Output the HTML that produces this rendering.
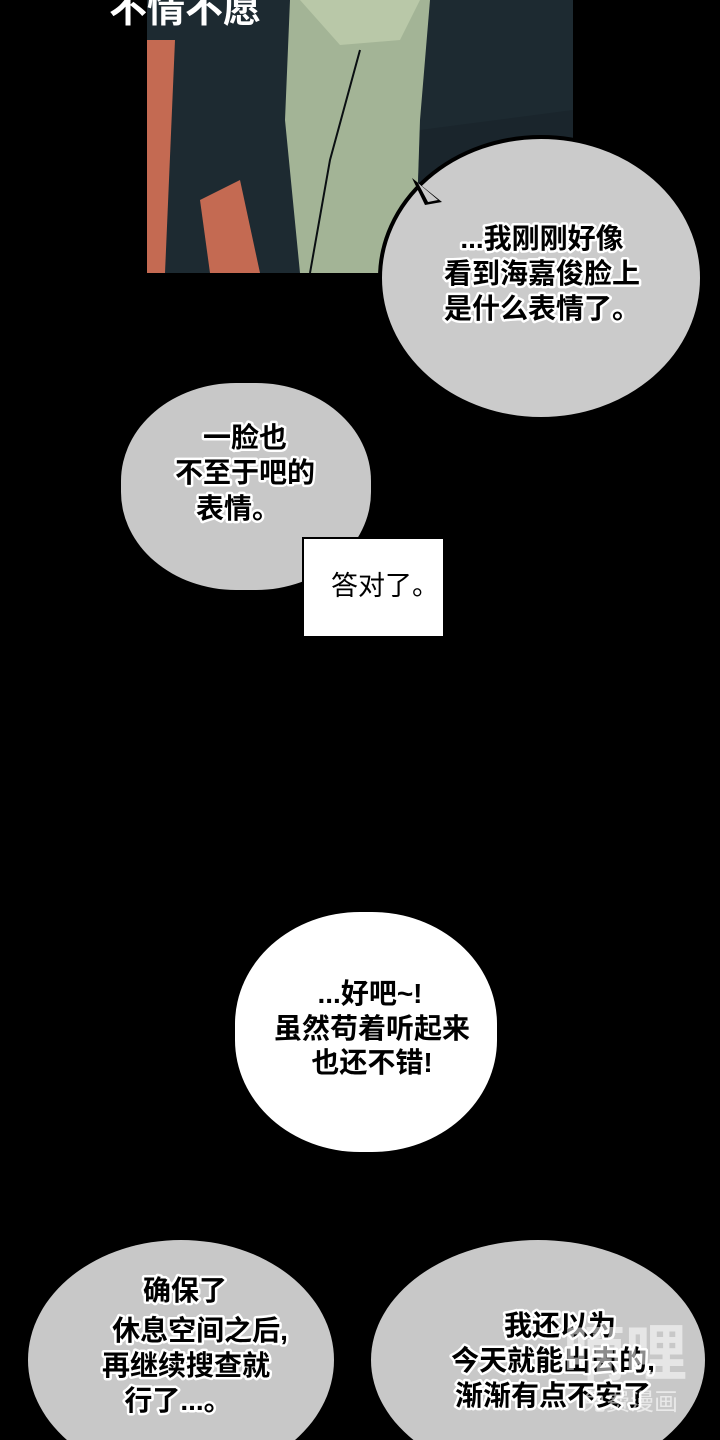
<!DOCTYPE html>
<html><head><meta charset="utf-8"><style>
html,body{margin:0;padding:0;background:#000;}
svg{display:block}
.t{font-family:"Liberation Sans","Noto Sans CJK SC",sans-serif;font-size:28px;font-weight:bold;fill:#000;stroke:#fff;stroke-width:5px;paint-order:stroke;stroke-linejoin:round;text-anchor:middle}
</style></head><body>
<svg width="720" height="1440" viewBox="0 0 720 1440" xmlns="http://www.w3.org/2000/svg">
<rect width="720" height="1440" fill="#000"/>
<rect x="147" y="0" width="426" height="273" fill="#1d2a31"/>
<polygon points="147,40 175,40 165,273 147,273" fill="#c46a52"/>
<polygon points="200,200 240,180 260,273 210,273" fill="#c46a52"/>
<polygon points="290,0 430,0 420,120 415,273 300,273 285,120" fill="#a3b496"/>
<polygon points="300,0 420,0 400,40 340,45" fill="#b9c8a8"/>
<polygon points="420,130 573,110 573,273 415,273" fill="#1a252c"/>
<polyline points="360,50 330,160 310,273" fill="none" stroke="#0a0f12" stroke-width="2"/>
<text x="185" y="22" font-family="Liberation Sans,Noto Sans CJK SC,sans-serif" font-size="38" font-weight="bold" fill="#fff" text-anchor="middle">不情不愿</text>
<ellipse cx="541" cy="278" rx="161" ry="141" fill="#cbcbcb" stroke="#000" stroke-width="4"/>
<polygon points="412,178 442,202 425,205" fill="#000"/>
<polygon points="418,183 438,200 428,202" fill="#cbcbcb"/>
<text class="t" x="542" y="248">...我刚刚好像</text>
<text class="t" x="542" y="283">看到海嘉俊脸上</text>
<text class="t" x="542" y="318">是什么表情了。</text>
<rect x="121" y="383" width="250" height="207" rx="115" ry="98" fill="#c8c8c8"/>
<text class="t" x="245" y="447">一脸也</text>
<text class="t" x="245" y="482">不至于吧的</text>
<text class="t" x="238" y="518">表情。</text>
<rect x="302" y="537" width="143" height="101" fill="#000"/>
<rect x="304" y="539" width="139" height="97" fill="#fff"/>
<text x="385" y="595" font-family="Liberation Sans,Noto Sans CJK SC,sans-serif" font-size="27" fill="#000" text-anchor="middle">答对了。</text>
<rect x="235" y="912" width="262" height="240" rx="125" ry="112" fill="#fff"/>
<text class="t" x="370" y="1003">...好吧~!</text>
<text class="t" x="372" y="1038">虽然苟着听起来</text>
<text class="t" x="372" y="1072">也还不错!</text>
<ellipse cx="181" cy="1360" rx="153" ry="120" fill="#c8c8c8"/>
<text class="t" x="185" y="1300">确保了</text>
<text class="t" x="200" y="1340">休息空间之后,</text>
<text class="t" x="186" y="1375">再继续搜查就</text>
<text class="t" x="178" y="1410">行了...。</text>
<ellipse cx="538" cy="1360" rx="167" ry="120" fill="#c8c8c8"/>
<text class="t" x="560" y="1335">我还以为</text>
<text class="t" x="553" y="1370">今天就能出去的,</text>
<text class="t" x="553" y="1405">渐渐有点不安了</text>
<text x="625" y="1375" font-family="Liberation Sans,Noto Sans CJK SC,sans-serif" font-size="62" font-weight="bold" fill="#fff" fill-opacity="0.55" text-anchor="middle">嘀哩</text>
<text x="630" y="1410" font-family="Liberation Sans,Noto Sans CJK SC,sans-serif" font-size="24" fill="#fff" fill-opacity="0.6" text-anchor="middle">免费漫画</text>
</svg>
</body></html>
